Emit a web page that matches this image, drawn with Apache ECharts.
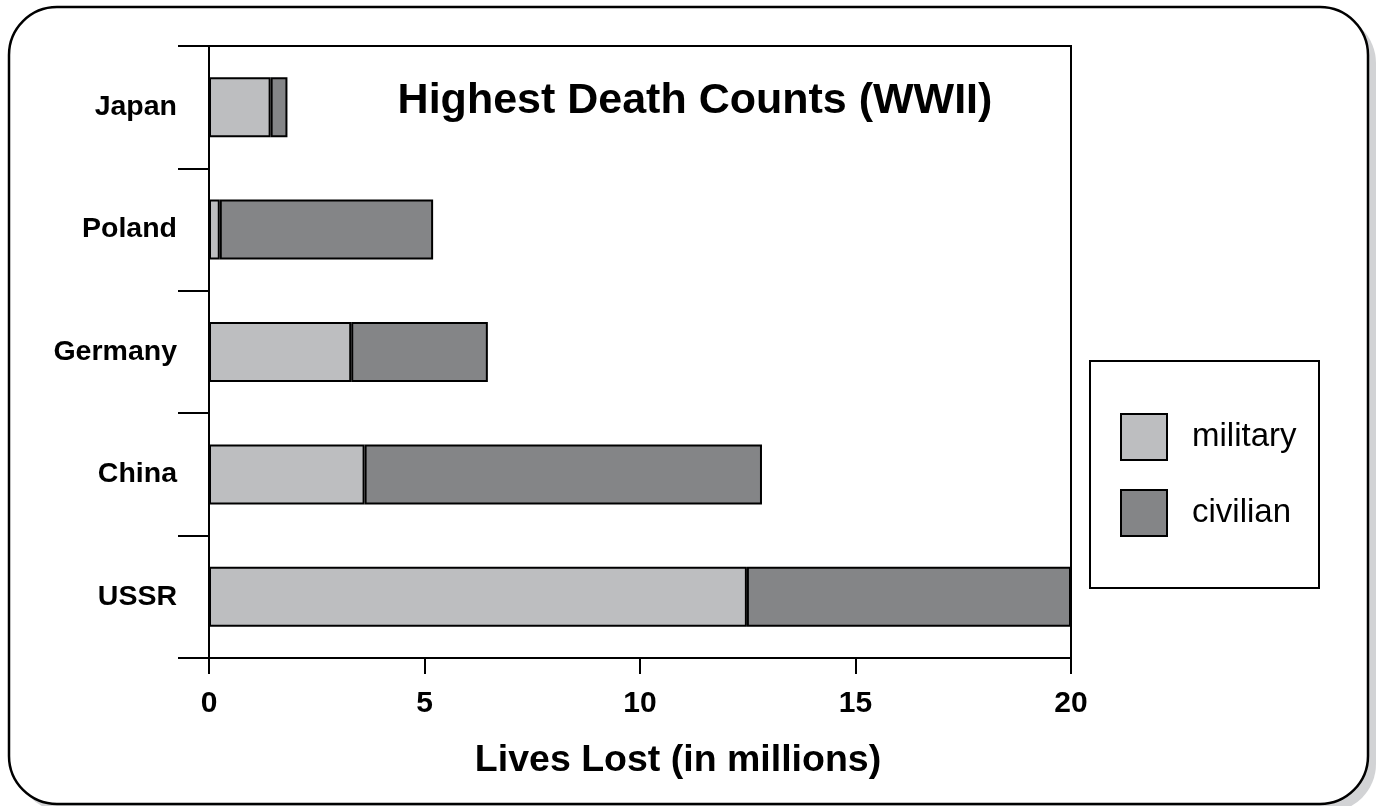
<!DOCTYPE html>
<html>
<head>
<meta charset="utf-8">
<script src="https://cdn.jsdelivr.net/npm/echarts@6/dist/echarts.min.js"></script>
<style>
html,body{margin:0;padding:0;background:#fff;}
#chart{width:1377px;height:806px;}
</style>
</head>
<body>
<div id="chart"></div>
<script>
const categories = ['Japan', 'Poland', 'Germany', 'China', 'USSR'];
const military = [1.43, 0.25, 3.3, 3.61, 12.48];
const civilian = [0.39, 4.95, 3.17, 9.22, 7.52];
const xTicks = [0, 5, 10, 15, 20];
const titleText = 'Highest Death Counts (WWII)';
const xAxisName = 'Lives Lost (in millions)';
const seriesNames = ['military', 'civilian'];

const FONT = 'Liberation Sans';
const chart = echarts.init(document.getElementById('chart'), null, {renderer: 'canvas'});

const option = {
  backgroundColor: '#ffffff',
  animation: false,
  title: {
    text: titleText,
    left: 690,
    textAlign: 'center',
    top: 75,
    textStyle: {fontFamily: FONT, fontSize: 43, fontWeight: 'bold', color: '#000'}
  },
  graphic: [
    {type: 'rect', z: -20, shape: {x: 17, y: 15, width: 1359, height: 797, r: 48}, style: {fill: '#d2d3d5'}},
    {type: 'rect', z: -10, shape: {x: 9, y: 7, width: 1359, height: 797, r: 48}, style: {fill: '#fff', stroke: '#000', lineWidth: 2.5}},
    {type: 'rect', z: -5, shape: {x: 1090, y: 361, width: 229, height: 227}, style: {fill: '#fff', stroke: '#000', lineWidth: 2}}
  ],
  legend: {
    orient: 'vertical',
    left: 1120,
    top: 413,
    padding: 0,
    itemWidth: 46,
    itemHeight: 46,
    itemGap: 28,
    icon: 'rect',
    itemStyle: {borderColor: '#000', borderWidth: 2},
    textStyle: {fontFamily: FONT, fontSize: 33, color: '#000', padding: [0, 0, 0, 20]},
    data: seriesNames
  },
  grid: {
    left: 209, right: 306, top: 46, bottom: 148,
    show: true, borderColor: '#000', borderWidth: 2, backgroundColor: 'transparent'
  },
  xAxis: {
    type: 'value',
    min: 0, max: 20, interval: 5,
    name: xAxisName,
    nameLocation: 'middle',
    nameGap: 84,
    nameTextStyle: {fontFamily: FONT, fontSize: 37.5, fontWeight: 'bold', color: '#000', padding: [0, 0, 0, 76]},
    axisLine: {show: true, lineStyle: {color: '#000', width: 2}},
    axisTick: {show: true, length: 16, lineStyle: {color: '#000', width: 2}},
    axisLabel: {
      margin: 31,
      fontFamily: FONT, fontSize: 30, fontWeight: 'bold', color: '#000',
      formatter: function (v) { return xTicks.indexOf(v) >= 0 ? String(v) : ''; }
    },
    splitLine: {show: false}
  },
  yAxis: {
    type: 'category',
    inverse: true,
    data: categories,
    axisLine: {show: true, lineStyle: {color: '#000', width: 2}},
    axisTick: {show: true, length: 31, lineStyle: {color: '#000', width: 2}},
    axisLabel: {margin: 32, fontFamily: FONT, fontSize: 28.5, fontWeight: 'bold', color: '#000'},
    splitLine: {show: false}
  },
  series: [
    {
      name: seriesNames[0], type: 'bar', stack: 'total', barWidth: 60,
      itemStyle: {color: '#bdbec0', borderColor: '#000', borderWidth: 2},
      data: military
    },
    {
      name: seriesNames[1], type: 'bar', stack: 'total', barWidth: 60,
      itemStyle: {color: '#848587', borderColor: '#000', borderWidth: 2},
      data: civilian
    }
  ]
};
chart.setOption(option);
</script>
</body>
</html>
